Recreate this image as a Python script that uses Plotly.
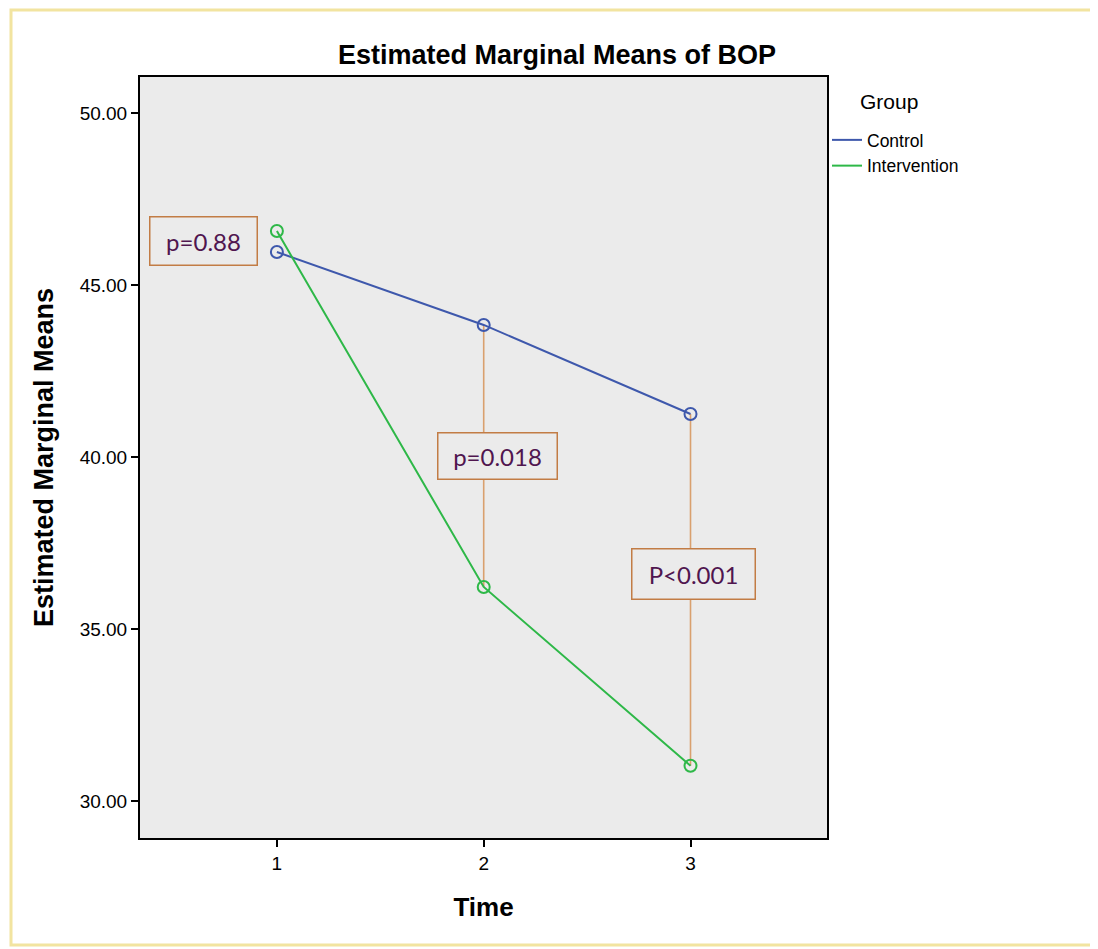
import plotly.graph_objects as go

time_points = [1, 2, 3]
control = [45.96, 43.84, 41.25]
intervention = [46.57, 36.22, 31.02]
group_names = ["Control", "Intervention"]
y_ticks = [30, 35, 40, 45, 50]
p_labels = ["p=0.88", "p=0.018", "P<0.001"]
p_label_x = [0.647, 2.068, 3.014]
p_label_y = [46.29, 40.04, 36.61]

BLUE = "#3e58ac"
GREEN = "#2eb848"
ORANGE_LINE = "#d9a06e"
ORANGE_BOX = "#c27c45"
PURPLE = "#50164f"
SANS = "Liberation Sans, Arial, sans-serif"

# page body adds an 8px margin; the figure is shrunk by that amount
OFF = 8
W, H = 1098 - OFF, 949 - OFF
PL, PR, PT, PB = 140, 827, 77, 838   # plot area in reference pixels
PW, PH = PR - PL, PB - PT

def px(xr):
    return (xr - PL) / PW

def py(yr):
    return (PB - yr) / PH

fig = go.Figure()

for i in [1, 2]:
    fig.add_trace(go.Scatter(
        x=[time_points[i], time_points[i]], y=[control[i], intervention[i]],
        mode="lines", line=dict(color=ORANGE_LINE, width=1.6),
        showlegend=False, hoverinfo="skip"))

for name, vals, col in [(group_names[0], control, BLUE), (group_names[1], intervention, GREEN)]:
    fig.add_trace(go.Scatter(
        x=time_points, y=vals, mode="lines+markers", name=name,
        line=dict(color=col, width=2),
        marker=dict(symbol="circle-open", size=12, color=col, line=dict(width=2)),
        showlegend=False))
    fig.add_trace(go.Scatter(
        x=[None], y=[None], mode="lines", name=name,
        line=dict(color=col, width=2), showlegend=True))

box_w = {"p=0.88": 102, "p=0.018": 114, "P<0.001": 118}
box_h = {"p=0.88": 43, "p=0.018": 41, "P<0.001": 45}
for txt, x, y in zip(p_labels, p_label_x, p_label_y):
    fig.add_annotation(
        x=x, y=y, xref="x", yref="y", text=txt, showarrow=False,
        font=dict(family="Lato, Open Sans, sans-serif", size=24, color=PURPLE),
        bgcolor="#ebebeb", bordercolor=ORANGE_BOX, borderwidth=1.5,
        borderpad=2, width=box_w[txt], height=box_h[txt])

# legend title
fig.add_annotation(x=px(858), y=py(101), xref="paper", yref="paper",
                   text="Group", showarrow=False, xanchor="left", yanchor="middle",
                   font=dict(family=SANS, size=21, color="black"))

# outer yellowish frame
fig.add_shape(type="rect", xref="paper", yref="paper",
              x0=px(11), x1=px(1095), y0=py(945), y1=py(10),
              line=dict(color="#f2e4a0", width=3), fillcolor="rgba(0,0,0,0)",
              layer="below")

fig.update_layout(
    width=W, height=H,
    margin=dict(l=PL - OFF, r=1098 - PR, t=PT - OFF, b=949 - PB),
    paper_bgcolor="white", plot_bgcolor="#ebebeb",
    font=dict(family=SANS, color="black"),
    title=dict(text="<b>Estimated Marginal Means of BOP</b>",
               x=(557 - OFF) / W, xanchor="center",
               y=1 - (55 - OFF) / H, yanchor="middle",
               font=dict(size=27, family=SANS, color="black")),
    legend=dict(x=px(827), xanchor="left", y=py(122), yanchor="top",
                font=dict(size=17.5), bgcolor="rgba(0,0,0,0)",
                itemwidth=30, tracegroupgap=0),
    showlegend=True,
)

fig.update_xaxes(
    range=[0.338, 3.66], tickvals=time_points, ticktext=[str(t) for t in time_points],
    showgrid=False, zeroline=False, showline=True, linecolor="black", linewidth=2,
    mirror=True, ticks="outside", ticklen=7, tickwidth=2, tickcolor="black",
    tickfont=dict(size=19),
    title=dict(text="<b>Time</b>", font=dict(size=26), standoff=25))

fig.update_yaxes(
    range=[28.92, 51.05], tickvals=y_ticks, ticktext=[f"{v:.2f}" for v in y_ticks],
    showgrid=False, zeroline=False, showline=True, linecolor="black", linewidth=2,
    mirror=True, ticks="outside", ticklen=7, tickwidth=2, tickcolor="black",
    tickfont=dict(size=19),
    title=dict(text="<b>Estimated Marginal Means</b>", font=dict(size=27), standoff=18))

fig.write_html("out.html")
